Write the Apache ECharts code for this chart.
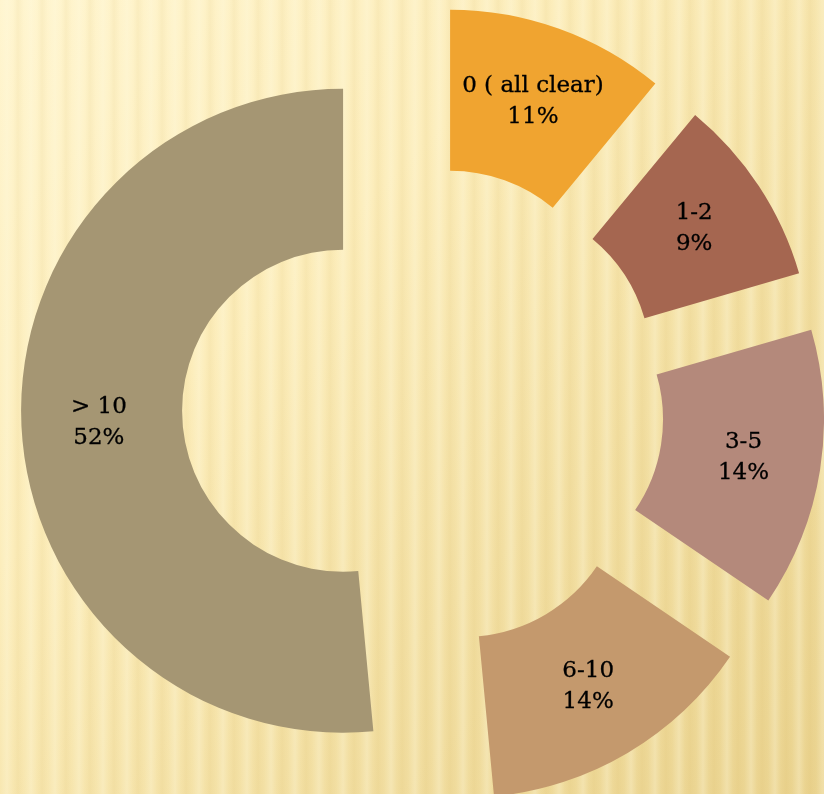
<!DOCTYPE html>
<html>
<head>
<meta charset="utf-8">
<script src="https://cdn.jsdelivr.net/npm/echarts@6/dist/echarts.min.js"></script>
<style>
  html, body { margin: 0; padding: 0; width: 824px; height: 794px; overflow: hidden; }
  body {
    background:
      repeating-linear-gradient(90deg,
        rgba(255,250,225,0.0) 0px, rgba(255,250,225,0.30) 7px, rgba(255,250,225,0.0) 13px,
        rgba(200,160,60,0.08) 18px, rgba(255,250,225,0.0) 24px),
      linear-gradient(135deg, #fff5cf 0%, #fcedbb 35%, #f3e0a4 65%, #ead38f 100%);
  }
  #chart { width: 824px; height: 794px; }
</style>
</head>
<body>
<div id="chart"></div>
<script>
const categories = ['0 ( all clear)', '1-2', '3-5', '6-10', '> 10'];
const values = [11, 9.5, 14, 14, 51.5];
const percentLabels = ['11%', '9%', '14%', '14%', '52%'];
const colors = ['#F0A430', '#A56650', '#B4897B', '#C4996D', '#A59673'];

const chart = echarts.init(document.getElementById('chart'), null, { renderer: 'canvas' });
chart.setOption({
  backgroundColor: 'transparent',
  animation: false,
  series: [{
    type: 'pie',
    center: [423, 407],
    radius: [161, 322],
    startAngle: 90,
    clockwise: true,
    selectedMode: 'multiple',
    selectedOffset: 80,
    avoidLabelOverlap: false,
    emphasis: { disabled: true },
    label: {
      show: true,
      position: 'inside',
      color: '#000',
      textBorderColor: '#000',
      textBorderWidth: 0.3,
      fontFamily: 'DejaVu Serif',
      fontSize: 23,
      lineHeight: 31,
      formatter: p => categories[p.dataIndex] + '\n' + percentLabels[p.dataIndex]
    },
    labelLine: { show: false },
    data: categories.map((c, i) => ({
      name: c,
      value: values[i],
      selected: true,
      itemStyle: { color: colors[i] },
      select: { itemStyle: { color: colors[i] } }
    }))
  }]
});
</script>
</body>
</html>
